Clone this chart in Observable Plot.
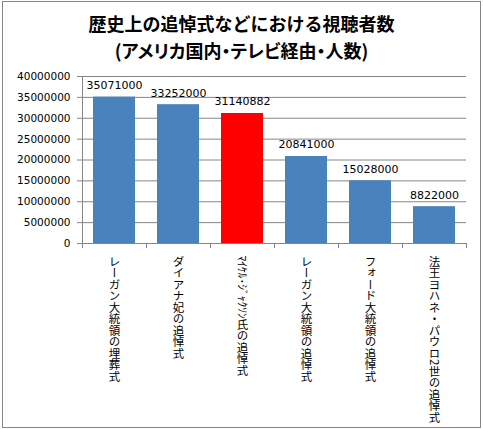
<!DOCTYPE html>
<html><head><meta charset="utf-8">
<script src="https://cdn.jsdelivr.net/npm/d3@7"></script>
<script src="https://cdn.jsdelivr.net/npm/@observablehq/plot@0.6"></script>
<style>
body{margin:0;background:#fff;}
#wrap{position:relative;width:483px;height:429px;overflow:hidden;background:#fff;}
#border{position:absolute;left:2px;top:1px;width:479px;height:427px;box-sizing:border-box;border:1px solid #868686;}
#title{position:absolute;left:0;top:10px;width:483px;text-align:center;font-family:"Noto Sans CJK JP";font-size:18px;line-height:27px;color:#000;font-weight:bold;}
#title .l2{font-feature-settings:"palt";}
#chart{position:absolute;left:0;top:60px;}
</style></head><body>
<div id="wrap"><div id="border"></div><div id="title">歴史上の追悼式などにおける視聴者数<br><span class="l2">(アメリカ国内・テレビ経由・人数)</span></div><div id="chart"></div></div>
<script>
const categories = [
  "レーガン大統領の埋葬式",
  "ダイアナ妃の追悼式",
  "ﾏｲｹﾙ･ｼﾞｬｸｿﾝ氏の追悼式",
  "レーガン大統領の追悼式",
  "フォード大統領の追悼式",
  "法王ヨハネ・パウロ2世の追悼式"
];
const viewers = [35071000, 33252000, 31140882, 20841000, 15028000, 8822000];
const barColors = ["#4a82bd", "#4a82bd", "#ff0000", "#4a82bd", "#4a82bd", "#4a82bd"];
const yTicks = [0, 5000000, 10000000, 15000000, 20000000, 25000000, 30000000, 35000000, 40000000];

const data = categories.map((c, i) => ({category: c, value: viewers[i], color: barColors[i]}));
const grid = "#868686";

const chart = Plot.plot({
  width: 483, height: 369,
  marginTop: 16, marginBottom: 186, marginLeft: 82, marginRight: 17,
  style: {fontFamily: "DejaVu Sans", fontSize: "10.5px", color: "#000", background: "transparent"},
  x: {domain: categories, paddingInner: 0.34, paddingOuter: 0.17, axis: null, label: null},
  y: {domain: [0, 40000000], axis: null, label: null},
  color: {type: "identity"},
  marks: [
    Plot.ruleY(yTicks, {stroke: grid}),
    Plot.ruleX([categories[0]], {dx: -32, y1: 0, y2: 40000000, stroke: grid}),
    Plot.axisY({ticks: yTicks, tickSize: 5, tickPadding: 7, tickFormat: d => String(d), stroke: grid, fill: "#000", label: null}),
    Plot.axisX({tickSize: 5, tickFormat: () => "", dx: -32, stroke: grid, label: null}),
    Plot.axisX({tickSize: 5, tickFormat: () => "", dx: 32, stroke: grid, label: null}),
    Plot.barY(data, {x: "category", y: "value", fill: "color"}),
    Plot.text(data, {x: "category", y: "value", text: d => String(d.value), lineAnchor: "bottom", dy: -8, fill: "#000", fontSize: 11}),
    Plot.text(categories, {x: d => d, text: d => d, frameAnchor: "bottom", textAnchor: "start", lineAnchor: "bottom", dy: 12, fill: "#000", fontFamily: "Noto Sans CJK JP", fontSize: 11.5, ariaDescription: "xlabels"})
  ]
});
chart.querySelectorAll('g[aria-description="xlabels"] text').forEach(t => {
  t.style.writingMode = "vertical-rl";
  t.style.textOrientation = "mixed";
});
document.getElementById("chart").appendChild(chart);
</script>
</body></html>
